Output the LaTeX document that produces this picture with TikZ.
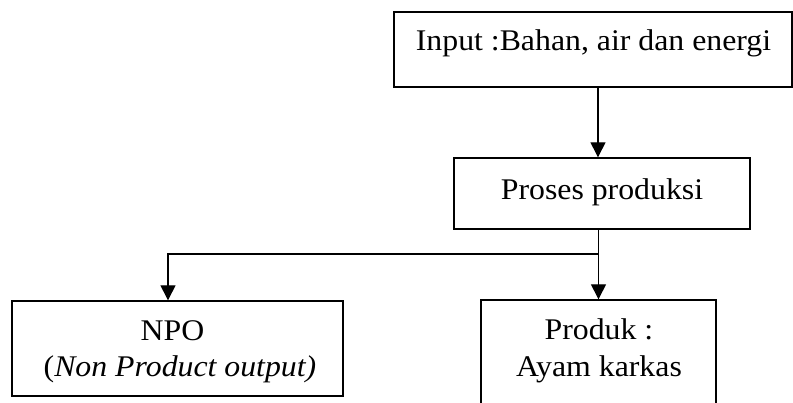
\documentclass[tikz,border=0pt]{standalone}
\usepackage{fontspec}
\setmainfont[FakeStretch=1.06]{Liberation Serif}
\usetikzlibrary{arrows.meta}
\begin{document}
\begin{tikzpicture}[x=1pt,y=-1pt,
  box/.style={draw,line width=1.4pt,inner sep=0pt},
  lbl/.style={font=\fontsize{30}{36.5}\selectfont,inner sep=0pt,anchor=base},
  arr/.style={line width=1.4pt,-{Triangle[width=15pt,length=15pt]}}]
\useasboundingbox (0,0) rectangle (793,403);
\node[box,minimum width=398pt,minimum height=75pt] (top) at (593,49.5) {};
\node[lbl] (toptext) at (593.5,51) {Input :Bahan, air dan energi};
\node[box,minimum width=296pt,minimum height=71pt] (proses) at (602,193.5) {};
\node[lbl] (prosestext) at (602,200) {Proses produksi};
\node[box,minimum width=331pt,minimum height=95pt] (npo) at (177.5,348.5) {};
\node[lbl] (npo1) at (172.5,341) {NPO};
\node[lbl] (npo2) at (180,377) {(\textit{Non Product output)}};
\begin{scope}
  \clip (0,0) rectangle (793,403);
  \node[box,minimum width=235pt,minimum height=120pt] (produk) at (598.5,360) {};
\end{scope}
\node[lbl] (produk1) at (599,340) {Produk :};
\node[lbl] (produk2) at (599,377) {Ayam karkas};
\coordinate (c1) at (598,0);
\coordinate (nx) at (168,0);
\coordinate (split) at (598.5,254);
\draw[arr] (top.south -| c1) -- (proses.north -| c1);
\draw[arr] (proses.south -| produk.north) -- (produk.north);
\draw[arr] (split) -| (npo.north -| nx);
\end{tikzpicture}
\end{document}
